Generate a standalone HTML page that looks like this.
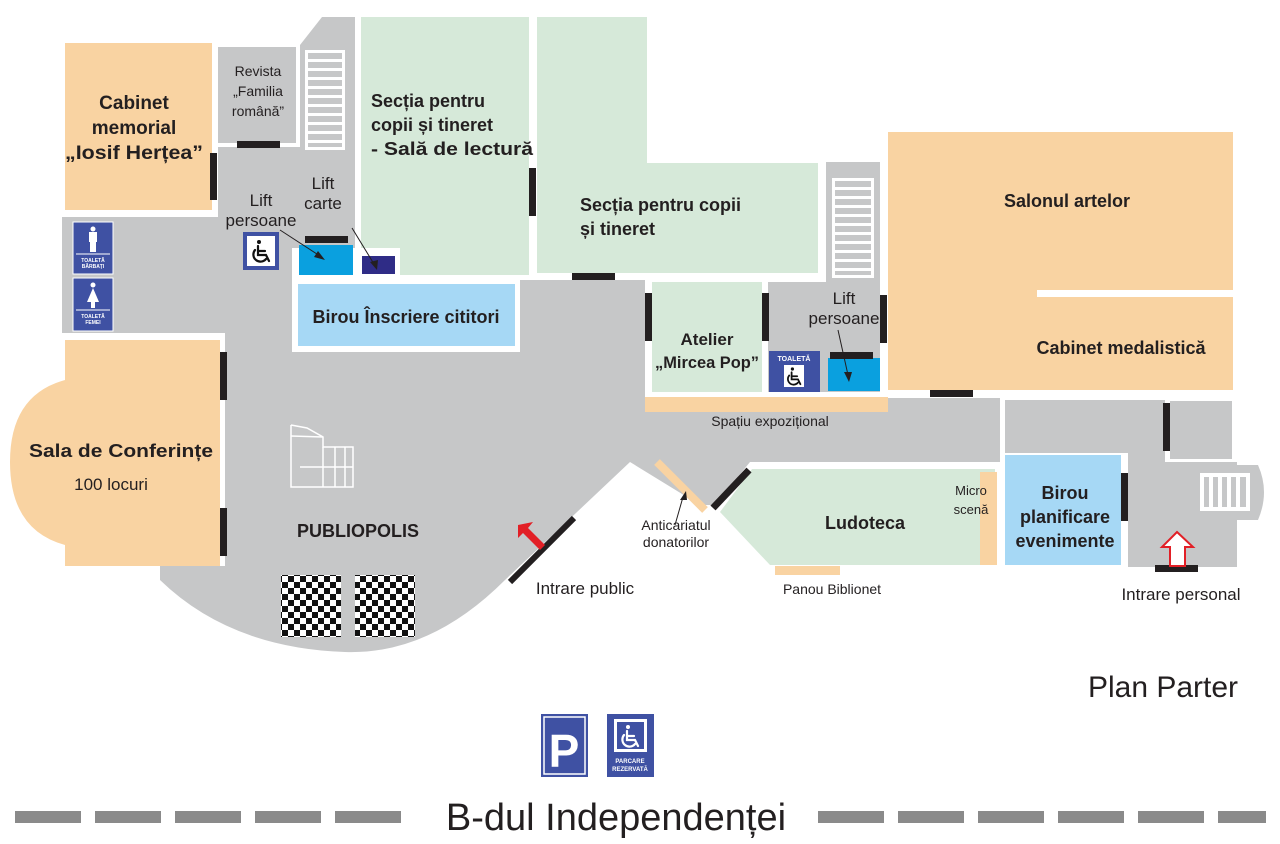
<!DOCTYPE html>
<html><head><meta charset="utf-8"><style>
html,body{margin:0;padding:0;background:#fff;}
svg{display:block;}
text{font-family:"Liberation Sans",sans-serif;fill:#231f20;}
.b{font-weight:bold;}
</style></head><body>
<svg width="1280" height="844" viewBox="0 0 1280 844" xmlns="http://www.w3.org/2000/svg">
<defs>
<pattern id="ch" width="12" height="12" patternUnits="userSpaceOnUse"><rect width="12" height="12" fill="#fff"/><rect width="6" height="6" fill="#111"/><rect x="6" y="6" width="6" height="6" fill="#111"/></pattern>
<g id="wc" fill="none" stroke-width="2.2" stroke-linecap="round">
  <circle cx="-2" cy="-10" r="2" stroke="none" fill="currentColor"/>
  <path d="M-3,-6 L-3,3 L5,3 L8,9" stroke="currentColor"/>
  <path d="M-3,-1 L4,-1" stroke="currentColor"/>
  <path d="M-6,-2 A7,7 0 1 0 5,7" stroke="currentColor"/>
</g>
</defs>
<g fill="#c6c7c8">
  <polygon points="300,45 322,17 355,17 355,285 218,285 218,145 300,145"/>
  <rect x="62" y="217" width="240" height="116"/>
  <path d="M220,280 L645,280 L645,398 L1000,398 L1000,462 L750,462 L715,505 L700,505 L630,462 L505,580 Q430,655 345,652 Q230,648 160,580 L160,566 L225,566 L225,333 L220,333 Z"/>
  <rect x="1005" y="400" width="160" height="53"/>
  <rect x="1128" y="400" width="37" height="167"/>
  <rect x="1128" y="462" width="109" height="105"/>
  <rect x="1170" y="401" width="62" height="58"/>
  <path d="M1237,465 L1258,465 Q1270,492 1258,520 L1237,520 Z"/>
  <rect x="768" y="282" width="112" height="110"/>
  <rect x="826" y="162" width="54" height="120"/>
</g>
<rect x="218" y="142" width="82" height="5" fill="#fff"/>
<rect x="218" y="47" width="78" height="96" fill="#c6c7c8"/>
<rect x="237" y="141" width="43" height="7" fill="#231f20"/>
<rect x="305" y="50" width="40" height="100" fill="#fff"/>
<g fill="#c6c7c8">
<rect x="308" y="53" width="34" height="6"/><rect x="308" y="62" width="34" height="6"/><rect x="308" y="71" width="34" height="6"/><rect x="308" y="80" width="34" height="6"/><rect x="308" y="89" width="34" height="6"/><rect x="308" y="98" width="34" height="6"/><rect x="308" y="107" width="34" height="6"/><rect x="308" y="116" width="34" height="6"/><rect x="308" y="125" width="34" height="6"/><rect x="308" y="134" width="34" height="6"/><rect x="308" y="143" width="34" height="4"/>
</g>
<rect x="832" y="178" width="42" height="100" fill="#fff"/>
<g fill="#c6c7c8">
<rect x="835" y="181" width="36" height="6"/><rect x="835" y="190" width="36" height="6"/><rect x="835" y="199" width="36" height="6"/><rect x="835" y="208" width="36" height="6"/><rect x="835" y="217" width="36" height="6"/><rect x="835" y="226" width="36" height="6"/><rect x="835" y="235" width="36" height="6"/><rect x="835" y="244" width="36" height="6"/><rect x="835" y="253" width="36" height="6"/><rect x="835" y="262" width="36" height="6"/><rect x="835" y="271" width="36" height="4"/>
</g>
<rect x="65" y="43" width="147" height="167" fill="#f9d3a2"/>
<rect x="210" y="153" width="7" height="47" fill="#231f20"/>
<rect x="361" y="17" width="168" height="258" fill="#d6e9d9"/>
<polygon points="537,17 647,17 647,163 818,163 818,273 537,273" fill="#d6e9d9"/>
<rect x="529" y="168" width="7" height="48" fill="#231f20"/>
<rect x="572" y="273" width="43" height="7" fill="#231f20"/>
<rect x="888" y="132" width="345" height="258" fill="#f9d3a2"/>
<rect x="1037" y="290" width="196" height="7" fill="#fff"/>
<rect x="930" y="390" width="43" height="7" fill="#231f20"/>
<rect x="880" y="295" width="7" height="48" fill="#231f20"/>
<rect x="292" y="248" width="108" height="30" fill="#fff"/>
<rect x="292" y="277" width="228" height="75" fill="#fff"/>
<rect x="298" y="284" width="217" height="62" fill="#a6d8f5"/>
<rect x="299" y="245" width="54" height="30" fill="#0aa0df"/>
<rect x="305" y="236" width="43" height="7" fill="#231f20"/>
<rect x="362" y="256" width="33" height="18" fill="#2f2c86"/>
<rect x="243" y="232" width="36" height="38" fill="#3f51a3"/>
<rect x="247" y="236" width="28" height="30" fill="#fff"/>
<use href="#wc" x="261" y="252" style="color:#111"/>
<rect x="652" y="282" width="110" height="110" fill="#d6e9d9"/>
<rect x="645" y="293" width="7" height="48" fill="#231f20"/>
<rect x="762" y="293" width="7" height="48" fill="#231f20"/>
<rect x="769" y="351" width="51" height="41" fill="#3f51a3"/>
<text x="794" y="361" font-size="7" class="b" text-anchor="middle" style="fill:#fff">TOALETĂ</text>
<rect x="784" y="365" width="20" height="22" fill="#fff"/>
<g transform="translate(794,377) scale(0.8)"><use href="#wc" style="color:#111"/></g>
<rect x="828" y="358" width="52" height="33" fill="#0aa0df"/>
<rect x="830" y="352" width="43" height="7" fill="#231f20"/>
<rect x="645" y="397" width="243" height="15" fill="#f9d3a2"/>
<polygon points="752,469 995,469 995,565 770,565 720,512" fill="#d6e9d9"/>
<rect x="980" y="472" width="17" height="93" fill="#f9d3a2"/>
<rect x="775" y="566" width="65" height="9" fill="#f9d3a2"/>
<line x1="713" y1="508" x2="749" y2="470" stroke="#231f20" stroke-width="7"/>
<line x1="657" y1="462" x2="705" y2="510" stroke="#f9d3a2" stroke-width="8"/>
<line x1="683" y1="497" x2="675" y2="525" stroke="#231f20" stroke-width="1"/>
<polygon points="686,491 680,500 687,500" fill="#231f20"/>
<rect x="1005" y="455" width="116" height="110" fill="#a6d8f5"/>
<rect x="1121" y="473" width="7" height="48" fill="#231f20"/>
<rect x="1163" y="403" width="7" height="48" fill="#231f20"/>
<rect x="1155" y="565" width="43" height="7" fill="#231f20"/>
<rect x="1200" y="473" width="50" height="38" fill="#fff"/>
<g fill="#c6c7c8"><rect x="1204" y="477" width="5" height="30"/><rect x="1213" y="477" width="5" height="30"/><rect x="1222" y="477" width="5" height="30"/><rect x="1231" y="477" width="5" height="30"/><rect x="1240" y="477" width="6" height="30"/></g>
<polygon points="1177,532 1193,547 1185,547 1185,566 1170,566 1170,547 1162,547" fill="#fff" stroke="#e21f26" stroke-width="2"/>
<path d="M65,340 L220,340 L220,566 L65,566 L65,545 Q10,530 10,462 Q10,395 65,380 Z" fill="#f9d3a2"/>
<rect x="220" y="352" width="7" height="48" fill="#231f20"/>
<rect x="220" y="508" width="7" height="48" fill="#231f20"/>
<rect x="73" y="222" width="40" height="52" fill="#3f51a3" stroke="#fff"/>
<rect x="73" y="278" width="40" height="53" fill="#3f51a3" stroke="#fff"/>
<line x1="76" y1="254" x2="110" y2="254" stroke="#fff"/><line x1="76" y1="310" x2="110" y2="310" stroke="#fff"/>
<circle cx="93" cy="229" r="2.5" fill="#fff"/>
<rect x="89" y="232" width="8" height="10" fill="#fff"/>
<rect x="90" y="241" width="6" height="11" fill="#fff"/>
<circle cx="93" cy="285" r="2.5" fill="#fff"/>
<polygon points="93,288 99,302 87,302" fill="#fff"/><rect x="91" y="301" width="4" height="7" fill="#fff"/>
<text x="93" y="262" font-size="5" class="b" text-anchor="middle" style="fill:#fff">TOALETĂ</text>
<text x="93" y="268" font-size="5" class="b" text-anchor="middle" style="fill:#fff">BĂRBAȚI</text>
<text x="93" y="318" font-size="5" class="b" text-anchor="middle" style="fill:#fff">TOALETĂ</text>
<text x="93" y="324" font-size="5" class="b" text-anchor="middle" style="fill:#fff">FEMEI</text>
<g fill="none" stroke="#fff" stroke-width="1.5">
<polyline points="291,425 291,487 353,487 353,447 323,447 323,437 307,428 291,425"/>
<line x1="291" y1="436" x2="323" y2="437"/><line x1="323" y1="447" x2="323" y2="487"/>
<line x1="335" y1="447" x2="335" y2="487"/><line x1="345" y1="447" x2="345" y2="487"/>
<line x1="323" y1="467" x2="353" y2="467"/><line x1="300" y1="467" x2="323" y2="467"/>
</g>
<rect x="281" y="575" width="60" height="62" fill="url(#ch)"/>
<rect x="355" y="575" width="60" height="62" fill="url(#ch)"/>
<line x1="510" y1="582" x2="574" y2="518" stroke="#231f20" stroke-width="6"/>
<polygon points="518,525 533,522 528,528 545,545 540,550 523,533 518,538" fill="#e21f26"/>
<line x1="280" y1="230" x2="320" y2="256" stroke="#231f20"/><polygon points="325,260 314,257 318,251" fill="#231f20"/>
<line x1="352" y1="228" x2="374" y2="264" stroke="#231f20"/><polygon points="377,270 370,262 378,260" fill="#231f20"/>
<line x1="838" y1="330" x2="848" y2="375" stroke="#231f20"/><polygon points="849,382 844,372 852,372" fill="#231f20"/>
<text x="134" y="109" font-size="19" class="b" text-anchor="middle">Cabinet</text>
<text x="134" y="134" font-size="19" class="b" text-anchor="middle">memorial</text>
<text x="134" y="159" font-size="19" class="b" text-anchor="middle" textLength="138" lengthAdjust="spacingAndGlyphs">„Iosif Herțea”</text>
<text x="258" y="76" font-size="14" text-anchor="middle">Revista</text>
<text x="258" y="96" font-size="14" text-anchor="middle">„Familia</text>
<text x="258" y="116" font-size="14" text-anchor="middle">română”</text>
<text x="371" y="107" font-size="18" class="b">Secția pentru</text>
<text x="371" y="131" font-size="18" class="b">copii și tineret</text>
<text x="371" y="155" font-size="18" class="b" textLength="162" lengthAdjust="spacingAndGlyphs">- Sală de lectură</text>
<text x="580" y="211" font-size="18" class="b">Secția pentru copii</text>
<text x="580" y="235" font-size="18" class="b">și tineret</text>
<text x="323" y="189" font-size="17" text-anchor="middle">Lift</text>
<text x="323" y="209" font-size="17" text-anchor="middle">carte</text>
<text x="261" y="206" font-size="17" text-anchor="middle">Lift</text>
<text x="261" y="226" font-size="17" text-anchor="middle">persoane</text>
<text x="406" y="323" font-size="18" class="b" text-anchor="middle">Birou Înscriere cititori</text>
<text x="1067" y="207" font-size="18" class="b" text-anchor="middle">Salonul artelor</text>
<text x="1121" y="354" font-size="18" class="b" text-anchor="middle">Cabinet medalistică</text>
<text x="844" y="304" font-size="17" text-anchor="middle">Lift</text>
<text x="844" y="324" font-size="17" text-anchor="middle">persoane</text>
<text x="707" y="345" font-size="17" class="b" text-anchor="middle">Atelier</text>
<text x="707" y="368" font-size="17" class="b" text-anchor="middle" textLength="104" lengthAdjust="spacingAndGlyphs">„Mircea Pop”</text>
<text x="770" y="426" font-size="14" text-anchor="middle">Spațiu expozițional</text>
<text x="121" y="457" font-size="18" class="b" text-anchor="middle" textLength="184" lengthAdjust="spacingAndGlyphs">Sala de Conferințe</text>
<text x="111" y="490" font-size="17" text-anchor="middle">100 locuri</text>
<text x="358" y="537" font-size="18" class="b" text-anchor="middle">PUBLIOPOLIS</text>
<text x="585" y="594" font-size="17" text-anchor="middle">Intrare public</text>
<text x="676" y="530" font-size="14" text-anchor="middle">Anticariatul</text>
<text x="676" y="547" font-size="14" text-anchor="middle">donatorilor</text>
<text x="865" y="529" font-size="18" class="b" text-anchor="middle">Ludoteca</text>
<text x="971" y="495" font-size="13" text-anchor="middle">Micro</text>
<text x="971" y="514" font-size="13" text-anchor="middle">scenă</text>
<text x="832" y="594" font-size="14" text-anchor="middle">Panou Biblionet</text>
<text x="1065" y="499" font-size="18" class="b" text-anchor="middle">Birou</text>
<text x="1065" y="523" font-size="18" class="b" text-anchor="middle">planificare</text>
<text x="1065" y="547" font-size="18" class="b" text-anchor="middle">evenimente</text>
<text x="1181" y="600" font-size="17" text-anchor="middle">Intrare personal</text>
<text x="1163" y="697" font-size="30" text-anchor="middle">Plan Parter</text>
<rect x="541" y="714" width="47" height="63" fill="#3f51a3"/>
<rect x="544" y="717" width="41" height="57" fill="none" stroke="#fff" stroke-width="1.5"/>
<text x="564" y="767" font-size="46" class="b" text-anchor="middle" style="fill:#fff">P</text>
<rect x="607" y="714" width="47" height="63" fill="#3f51a3"/>
<rect x="614" y="719" width="33" height="33" fill="#fff"/>
<rect x="617" y="722" width="27" height="27" fill="#3f51a3"/>
<use href="#wc" x="630" y="737" style="color:#fff"/>
<text x="630" y="763" font-size="6" class="b" text-anchor="middle" style="fill:#fff">PARCARE</text>
<text x="630" y="771" font-size="6" class="b" text-anchor="middle" style="fill:#fff">REZERVATĂ</text>
<g fill="#8a8a8a">
<rect x="15" y="811" width="66" height="12"/><rect x="95" y="811" width="66" height="12"/><rect x="175" y="811" width="66" height="12"/><rect x="255" y="811" width="66" height="12"/><rect x="335" y="811" width="66" height="12"/>
<rect x="818" y="811" width="66" height="12"/><rect x="898" y="811" width="66" height="12"/><rect x="978" y="811" width="66" height="12"/><rect x="1058" y="811" width="66" height="12"/><rect x="1138" y="811" width="66" height="12"/><rect x="1218" y="811" width="48" height="12"/>
</g>
<text x="616" y="830" font-size="38" text-anchor="middle">B-dul Independenței</text>
</svg>
</body></html>
